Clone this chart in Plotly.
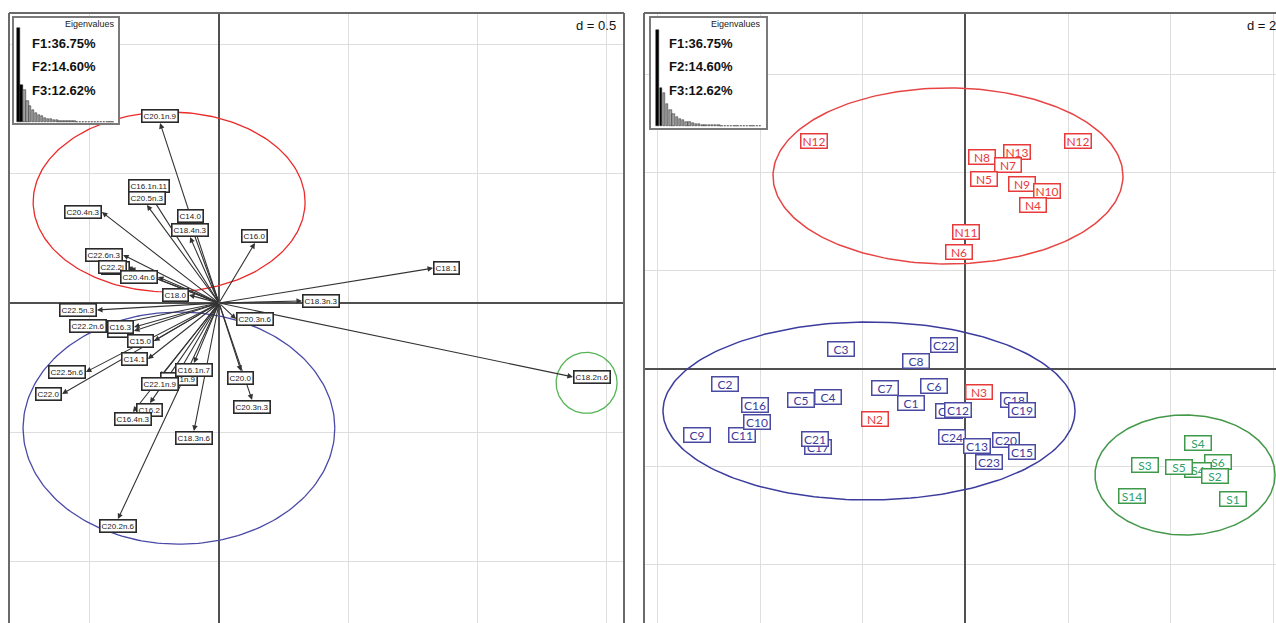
import numpy as np
import plotly.graph_objects as go

W, H = 1276, 623

# ---------------------------------------------------------------
# Fatty-acid vectors on the F1 x F2 correlation plane (arrow tips)
# ---------------------------------------------------------------
fa_names = ["C20.1n.9", "C16.1n.11", "C20.5n.3", "C20.4n.3", "C14.0", "C18.4n.3",
            "C16.0", "C22.6n.3", "C22.2j", "C22.2i", "C20.4n.6", "C18.0", "C22.5n.3",
            "C17.0", "C16.3", "C22.2n.6", "C15.0", "C14.1", "C22.5n.6", "C22.0",
            "C18.1n.9", "C16.1n.7", "C22.1n.9", "C16.2", "C16.4n.3", "C18.3n.6",
            "C20.0", "C20.3n.3", "C20.2n.6", "C20.3n.6", "C18.3n.3", "C18.1", "C18.2n.6"]
fa_f1 = [-0.228, -0.271, -0.279, -0.453, -0.112, -0.112,
         0.139, -0.371, -0.345, -0.356, -0.236, -0.116, -0.472,
         -0.329, -0.329, -0.433, -0.251, -0.275, -0.515, -0.607,
         -0.155, -0.097, -0.228, -0.267, -0.333, -0.097,
         0.085, 0.128, -0.391, 0.066, 0.321, 0.828, 1.369]
fa_f2 = [0.696, 0.426, 0.379, 0.352, 0.309, 0.255,
         0.232, 0.186, 0.135, 0.139, 0.101, 0.031, -0.027,
         -0.108, -0.093, -0.089, -0.147, -0.217, -0.267, -0.352,
         -0.267, -0.232, -0.286, -0.387, -0.422, -0.495,
         -0.263, -0.375, -0.836, -0.062, 0.008, 0.135, -0.286]

# ---------------------------------------------------------------
# Individual scores on F1 x F2 (N, C and S groups)
# ---------------------------------------------------------------
ind_names = ["N12", "N12", "N13", "N8", "N7", "N5", "N9", "N10", "N4", "N11", "N6",
             "C3", "C22", "C8", "C2", "C16", "C5", "C4", "C7", "C6", "C1", "C11",
             "C10", "C9", "C17", "C21", "N2", "C14", "C12", "N3", "C18", "C19",
             "C24", "C13", "C20", "C15", "C23",
             "S4", "S3", "S6", "S4", "S5", "S2", "S14", "S1"]
ind_f1 = [-2.960, 2.191, 1.003, 0.312, 0.828, 0.370, 1.091, 1.587, 1.315, 0.010, -0.117,
          -2.425, -0.409, -0.964, -4.693, -4.099, -3.194, -2.687, -1.558, -0.613, -1.061, -4.343,
          -4.051, -5.229, -2.872, -2.931, -1.762, -0.312, -0.146, 0.263, 0.935, 1.091,
          -0.263, 0.224, 0.789, 1.091, 0.467,
          4.537, 3.486, 4.908, 4.537, 4.158, 4.859, 3.233, 5.200]
ind_f2 = [4.653, 4.653, 4.429, 4.327, 4.163, 3.867, 3.776, 3.633, 3.337, 2.796, 2.378,
          0.398, 0.490, 0.173, -0.306, -0.745, -0.633, -0.571, -0.398, -0.357, -0.684, -1.337,
          -1.092, -1.347, -1.582, -1.429, -1.020, -0.857, -0.847, -0.469, -0.643, -0.827,
          -1.378, -1.571, -1.459, -1.704, -1.898,
          -1.510, -1.959, -1.898, -2.071, -2.000, -2.184, -2.582, -2.663]
ind_group = ["N"] * 11 + ["C"] * 15 + ["N"] + ["C"] * 2 + ["N"] + ["C"] * 7 + ["S"] * 8

# ---------------------------------------------------------------
# Eigenvalues (% of inertia)
# ---------------------------------------------------------------
eig_pct = [36.75, 14.60, 12.62, 8.4, 6.1, 4.6, 3.5, 2.8, 2.2, 1.7, 1.35, 1.05,
           0.85, 0.7, 0.55, 0.45, 0.38, 0.3, 0.25, 0.2, 0.16, 0.13, 0.1, 0.08,
           0.06, 0.05, 0.04, 0.03, 0.02, 0.015, 0.01, 0.006, 0.003]
eig_labels = ["F1:36.75%", "F2:14.60%", "F3:12.62%"]

# ---------------------------------------------------------------
# Group ellipses: centre x, centre y, half-width, half-height
# ---------------------------------------------------------------
ell_groups = ["N", "C", "S"]
fa_ell_cx = [-0.193, -0.155, 1.422]
fa_ell_cy = [0.391, -0.484, -0.309]
fa_ell_rx = [0.526, 0.603, 0.118]
fa_ell_ry = [0.348, 0.449, 0.118]
ind_ell_cx = [-0.341, -1.879, 4.275]
ind_ell_cy = [3.939, -0.857, -2.163]
ind_ell_rx = [3.408, 4.012, 1.753]
ind_ell_ry = [1.796, 1.816, 1.224]

ell_colors_fa = {"N": "#ec2a2a", "C": "#4a4aa6", "S": "#55b455"}
ell_colors_ind = {"N": "#e84444", "C": "#3c3c9e", "S": "#44984a"}
lab_text_col = {"N": "#e83a3a", "C": "#3b3b9b", "S": "#2f9f6c"}
lab_box_col = {"N": "#e83a3a", "C": "#4a4aa2", "S": "#3e9a4a"}

SANS = "Liberation Sans, Arial, sans-serif"

fig = go.Figure()

# ---- ellipses ----
t = np.linspace(0, 2 * np.pi, 240)
for g, cx, cy, rx, ry in zip(ell_groups, fa_ell_cx, fa_ell_cy, fa_ell_rx, fa_ell_ry):
    fig.add_trace(go.Scatter(x=cx + rx * np.cos(t), y=cy + ry * np.sin(t), mode="lines",
                             line=dict(color=ell_colors_fa[g], width=1.3),
                             hoverinfo="skip", xaxis="x", yaxis="y"))
for g, cx, cy, rx, ry in zip(ell_groups, ind_ell_cx, ind_ell_cy, ind_ell_rx, ind_ell_ry):
    fig.add_trace(go.Scatter(x=cx + rx * np.cos(t), y=cy + ry * np.sin(t), mode="lines",
                             line=dict(color=ell_colors_ind[g], width=1.5),
                             hoverinfo="skip", xaxis="x2", yaxis="y2"))

# ---- eigenvalue screeplots (inset subplots with their own white background) ----
bar_cols = ["#000000" if i < 2 else "#a0a0a0" for i in range(len(eig_pct))]
ranks = list(range(1, len(eig_pct) + 1))
for xa, ya in (("x3", "y3"), ("x4", "y4")):
    fig.add_trace(go.Bar(x=ranks, y=eig_pct, xaxis=xa, yaxis=ya, width=0.8,
                         marker=dict(color=bar_cols, line=dict(color="#222222", width=0.5)),
                         hoverinfo="skip"))

annotations = []


def anchor_for(x, y):
    # label placement around the arrow tip, by sector
    if x > y and x > -y:
        return "left", "middle"
    if x > y and x <= -y:
        return "center", "top"
    if x <= y and x <= -y:
        return "right", "middle"
    return "center", "bottom"


# arrows first, labels on top
for x, y in zip(fa_f1, fa_f2):
    annotations.append(dict(x=x, y=y, ax=0, ay=0, xref="x", yref="y", axref="x", ayref="y",
                            text="", showarrow=True, arrowhead=2, arrowsize=1.0,
                            arrowwidth=1.1, arrowcolor="#333333", standoff=0))
for name, x, y in zip(fa_names, fa_f1, fa_f2):
    xa, ya = anchor_for(x, y)
    annotations.append(dict(x=x, y=y, xref="x", yref="y", text=name, showarrow=False,
                            xanchor=xa, yanchor=ya,
                            font=dict(family=SANS, size=8, color="#222222"),
                            bgcolor="white", bordercolor="#2a2a2a", borderwidth=1.6,
                            borderpad=1))

for name, x, y, g in zip(ind_names, ind_f1, ind_f2, ind_group):
    annotations.append(dict(x=x, y=y, xref="x2", yref="y2", text=name, showarrow=False,
                            xanchor="center", yanchor="middle", width=25, height=13,
                            align="center", valign="middle",
                            font=dict(family="Lato, Open Sans, sans-serif", size=12,
                                      color=lab_text_col[g]),
                            bgcolor="white", bordercolor=lab_box_col[g], borderwidth=1.5,
                            borderpad=0))


def px(xp):
    return xp / W


def py(yp):
    return 1 - yp / H


# scale legends
annotations.append(dict(x=px(618), y=py(25), xref="paper", yref="paper", text="d = 0.5",
                        showarrow=False, xanchor="right", yanchor="middle",
                        font=dict(family=SANS, size=13, color="#111111")))
annotations.append(dict(x=px(1245), y=py(25), xref="paper", yref="paper", text="d = 2",
                        showarrow=False, xanchor="left", yanchor="middle",
                        font=dict(family=SANS, size=13, color="#111111")))

# screeplot captions
for x_eig, x_lab in ((117, 30), (763, 667)):
    annotations.append(dict(x=px(x_eig), y=py(24), xref="paper", yref="paper",
                            text="Eigenvalues", showarrow=False, xanchor="right",
                            yanchor="middle", font=dict(family=SANS, size=9, color="#222222")))
    for k, lab in enumerate(eig_labels):
        annotations.append(dict(x=px(x_lab), y=py(43 + 23.5 * k), xref="paper", yref="paper",
                                text="<b>" + lab + "</b>", showarrow=False, xanchor="left",
                                yanchor="middle",
                                font=dict(family=SANS, size=13, color="#111111")))

frame = dict(color="#6a6a6a", width=2)
shapes = [
    # left panel frame
    dict(type="line", xref="paper", yref="paper", x0=px(9), x1=px(9), y0=0, y1=py(13), line=frame),
    dict(type="line", xref="paper", yref="paper", x0=px(9), x1=px(624), y0=py(13), y1=py(13), line=frame),
    dict(type="line", xref="paper", yref="paper", x0=px(624), x1=px(624), y0=0, y1=py(13), line=frame),
    # right panel frame
    dict(type="line", xref="paper", yref="paper", x0=px(644), x1=px(644), y0=0, y1=py(13), line=frame),
    dict(type="line", xref="paper", yref="paper", x0=px(644), x1=1, y0=py(13), y1=py(13), line=frame),
]

grid = dict(showgrid=True, gridcolor="#dedede", gridwidth=1.3, zeroline=True,
            zerolinecolor="#505050", zerolinewidth=2, showticklabels=False,
            ticks="", showline=False, fixedrange=True)
inset = dict(showgrid=False, zeroline=False, showticklabels=False, ticks="",
             showline=True, mirror=True, linecolor="#7a7a7a", linewidth=1.5,
             fixedrange=True)

fig.update_layout(
    width=W, height=H,
    margin=dict(l=0, r=0, t=0, b=0),
    paper_bgcolor="white", plot_bgcolor="white",
    showlegend=False, hovermode=False, bargap=0,
    xaxis=dict(domain=[9 / W, 624 / W], range=[-0.8124, 1.5667], tick0=0, dtick=0.5,
               anchor="y", **grid),
    yaxis=dict(domain=[0, (H - 13) / H], range=[-1.2379, 1.1219], tick0=0, dtick=0.5,
               anchor="x", **grid),
    xaxis2=dict(domain=[644 / W, 1], range=[-6.261, 6.047], tick0=0, dtick=2,
                anchor="y2", **grid),
    yaxis2=dict(domain=[0, (H - 13) / H], range=[-5.184, 7.265], tick0=0, dtick=2,
                anchor="x2", **grid),
    xaxis3=dict(domain=[14 / W, 118 / W], range=[-0.53, 34.84], anchor="y3", **inset),
    yaxis3=dict(domain=[1 - 123 / H, 1 - 18 / H], range=[-0.39, 40.66], anchor="x3", **inset),
    xaxis4=dict(domain=[651 / W, 766 / W], range=[-1.06, 34.88], anchor="y4", **inset),
    yaxis4=dict(domain=[1 - 128 / H, 1 - 18 / H], range=[-0.77, 41.34], anchor="x4", **inset),
    annotations=annotations,
    shapes=shapes,
)

fig.write_html("out.html", config={"displayModeBar": False})
